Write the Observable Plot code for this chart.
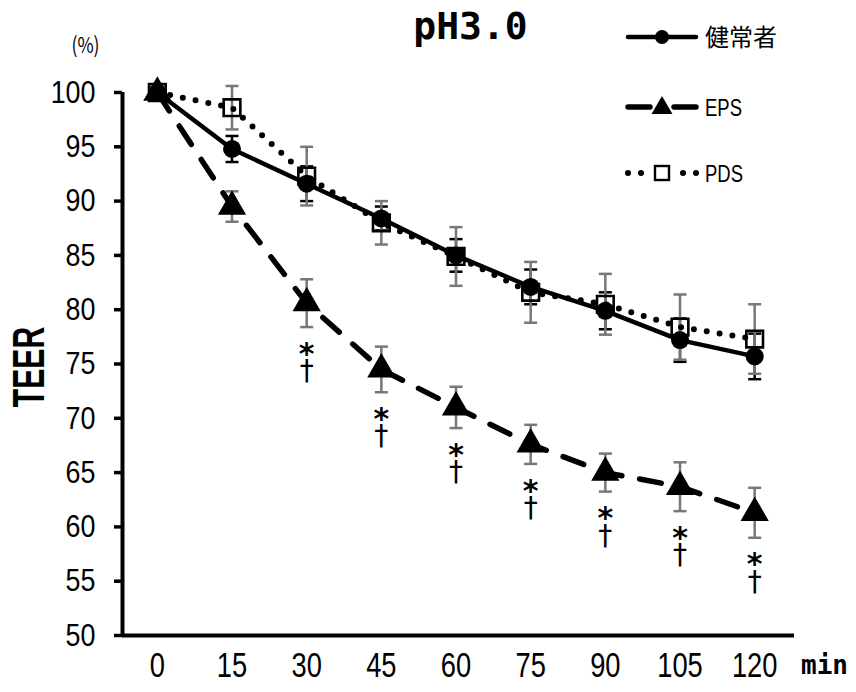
<!DOCTYPE html>
<html>
<head>
<meta charset="utf-8">
<script src="https://cdn.jsdelivr.net/npm/d3@7"></script>
<script src="https://cdn.jsdelivr.net/npm/@observablehq/plot@0.6"></script>
<style>
  html, body { margin: 0; padding: 0; background: #fff; }
  #wrap { position: relative; width: 856px; height: 692px; }
</style>
</head>
<body>
<div id="wrap"></div>
<script>
// ---- data ----
const times = [0, 15, 30, 45, 60, 75, 90, 105, 120];
const healthyMean = [100, 94.8, 91.6, 88.4, 85.0, 82.1, 79.9, 77.2, 75.7];
const healthySD   = [0, 1.2, 1.6, 1.1, 1.5, 1.6, 1.7, 2.0, 2.1];
const epsMean = [100, 89.5, 80.6, 74.5, 71.0, 67.6, 65.0, 63.7, 61.3];
const epsSD   = [0, 1.4, 2.2, 2.1, 1.9, 1.8, 1.75, 2.25, 2.3];
const pdsMean = [100, 98.6, 92.3, 88.0, 84.9, 81.6, 80.5, 78.4, 77.3];
const pdsSD   = [0, 2.0, 2.7, 2.0, 2.7, 2.8, 2.8, 3.0, 3.2];
const sigTimes = [30, 45, 60, 75, 90, 105, 120]; // EPS: * and †
const yTicks = [50, 55, 60, 65, 70, 75, 80, 85, 90, 95, 100];
const seriesNames = ["健常者", "EPS", "PDS"];
const titleText = "pH3.0";
const yLabel = "TEER";
const unitLabel = "(%)";
const xUnit = "min";

const rows = (m, s) => times.map((t, i) => ({t, m: m[i], sd: s[i]}));
const healthy = rows(healthyMean, healthySD);
const eps = rows(epsMean, epsSD);
const pds = rows(pdsMean, pdsSD);
const epsSig = eps.filter(d => sigTimes.includes(d.t));

const xDomain = [-7, 128];
const yDomain = [50, 100];
const sans = "'Liberation Sans', Arial, sans-serif";
const jp = "'Noto Sans CJK JP', sans-serif";
const mono = "'DejaVu Sans Mono', monospace";
const dv = "'DejaVu Sans', sans-serif";

const capSymbol = {
  draw(context, size) {
    const w = Math.sqrt(size / Math.PI);
    context.moveTo(-w, 0);
    context.lineTo(w, 0);
  }
};

function errorBars(data, color) {
  const d2 = data.filter(d => d.sd > 0);
  return [
    Plot.ruleX(d2, {x: "t", y1: d => d.m - d.sd, y2: d => d.m + d.sd, stroke: color, strokeWidth: 2.5}),
    Plot.dot(d2, {x: "t", y: d => d.m - d.sd, symbol: capSymbol, r: 6.5, stroke: color, strokeWidth: 2.5}),
    Plot.dot(d2, {x: "t", y: d => d.m + d.sd, symbol: capSymbol, r: 6.5, stroke: color, strokeWidth: 2.5})
  ];
}

const chart = Plot.plot({
  width: 856,
  height: 692,
  marginLeft: 122,
  marginRight: 62,
  marginTop: 92,
  marginBottom: 57,
  x: {domain: xDomain},
  y: {domain: yDomain},
  style: {background: "white", color: "black"},
  marks: [
    // axes
    Plot.axisY({ticks: yTicks, tickSize: 8, strokeWidth: 3.5, tickPadding: 19, fontSize: 32,
      fontFamily: sans, label: null}),
    Plot.axisX({ticks: times, tickSize: 0, tickPadding: 17, fontSize: 35, fontFamily: sans, label: null}),
    Plot.ruleX([xDomain[0]], {stroke: "black", strokeWidth: 4}),
    Plot.ruleY([yDomain[0]], {stroke: "black", strokeWidth: 4}),
    // error bars
    ...errorBars(healthy, "black"),
    ...errorBars(eps, "#777"),
    ...errorBars(pds, "#777"),
    // lines
    Plot.line(healthy, {x: "t", y: "m", stroke: "black", strokeWidth: 4.5}),
    Plot.line(eps, {x: "t", y: "m", stroke: "black", strokeWidth: 5.5, strokeDasharray: "22 18", strokeLinecap: "round"}),
    Plot.line(pds, {x: "t", y: "m", stroke: "black", strokeWidth: 6, strokeDasharray: "0 13", strokeLinecap: "round"}),
    // markers
    Plot.dot(healthy, {x: "t", y: "m", r: 9, fill: "black", symbol: "circle"}),
    Plot.dot(eps, {x: "t", y: "m", r: 10.5, fill: "black", symbol: "triangle"}),
    Plot.dot(pds, {x: "t", y: "m", r: 9.4, fill: "none", stroke: "black", strokeWidth: 2.6, symbol: "square"}),
    // significance marks
    Plot.text(epsSig, {x: "t", y: d => d.m - d.sd, text: () => "*", dy: 27, fontSize: 30, fontWeight: "bold", fontFamily: dv, fill: "black"}),
    Plot.text(epsSig, {x: "t", y: d => d.m - d.sd, text: () => "†", dy: 44, fontSize: 28, fontFamily: dv, fill: "black"}),
    // labels
    Plot.text([titleText], {frameAnchor: "top", textAnchor: "middle", lineAnchor: "middle", dx: 12, dy: -66, fontSize: 38, fontWeight: "bold", fontFamily: mono, fill: "black"}),
    Plot.text([yLabel], {frameAnchor: "left", textAnchor: "middle", lineAnchor: "middle", dx: -93, dy: 3, rotate: -90, fontSize: 45, fontWeight: "bold", fontFamily: sans, fill: "black"}),
    Plot.text([unitLabel], {frameAnchor: "top-left", textAnchor: "middle", lineAnchor: "middle", dx: -37, dy: -47, fontSize: 22, fontFamily: jp, fill: "black"}),
    Plot.text([xUnit], {frameAnchor: "bottom-right", textAnchor: "middle", lineAnchor: "middle", dx: 30, dy: 30, fontSize: 26, fontWeight: "bold", fontFamily: mono, fill: "black"})
  ]
});
document.getElementById("wrap").appendChild(chart);

// condense text horizontally (narrow gothic look), keeping the anchor point
function condense(sel, s) {
  sel.each(function() {
    const t = d3.select(this);
    const tr = t.attr("transform") || "";
    const xa = t.attr("x");
    if (xa != null && !isNaN(+xa)) t.attr("x", +xa / s);
    t.attr("transform", `${tr} scale(${s},1)`);
  });
}
const root = d3.select(chart);
condense(root.selectAll('g[aria-label="y-axis tick label"] text'), 0.84);
condense(root.selectAll('g[aria-label="x-axis tick label"] text'), 0.78);
condense(root.selectAll("text").filter(function() { return this.textContent === yLabel; }), 0.67);
condense(root.selectAll("text").filter(function() { return this.textContent === unitLabel; }), 0.8);

// ---- legend (overlay) ----
const lg = d3.select("#wrap").append("svg")
  .attr("width", 200).attr("height", 190)
  .style("position", "absolute").style("left", "620px").style("top", "10px");
const rowsY = [27, 97, 163];
// 健常者
lg.append("line").attr("x1", 8).attr("x2", 76).attr("y1", rowsY[0]).attr("y2", rowsY[0])
  .attr("stroke", "black").attr("stroke-width", 4.5).attr("stroke-linecap", "round");
lg.append("circle").attr("cx", 42).attr("cy", rowsY[0]).attr("r", 7).attr("fill", "black");
// EPS
lg.append("line").attr("x1", 8).attr("x2", 30).attr("y1", rowsY[1]).attr("y2", rowsY[1])
  .attr("stroke", "black").attr("stroke-width", 5.5).attr("stroke-linecap", "round");
lg.append("line").attr("x1", 54).attr("x2", 76).attr("y1", rowsY[1]).attr("y2", rowsY[1])
  .attr("stroke", "black").attr("stroke-width", 5.5).attr("stroke-linecap", "round");
lg.append("path").attr("d", d3.symbol(d3.symbolTriangle, 190)()).attr("transform", `translate(42,${rowsY[1] + 1})`).attr("fill", "black");
// PDS
for (const cx of [8, 21, 63, 76]) {
  lg.append("circle").attr("cx", cx).attr("cy", rowsY[2]).attr("r", 3).attr("fill", "black");
}
lg.append("rect").attr("x", 35).attr("y", rowsY[2] - 7).attr("width", 14).attr("height", 14)
  .attr("fill", "none").attr("stroke", "black").attr("stroke-width", 2.4);
// texts
seriesNames.forEach((name, i) => {
  const t = lg.append("text").attr("y", rowsY[i]).attr("dy", "0.36em")
    .attr("font-size", i === 0 ? 24 : 24)
    .attr("font-family", i === 0 ? jp : sans)
    .attr("fill", "black").text(name);
  if (i === 0) t.attr("x", 85);
  else t.attr("transform", "translate(85,0) scale(0.77,1)");
});
</script>
</body>
</html>
